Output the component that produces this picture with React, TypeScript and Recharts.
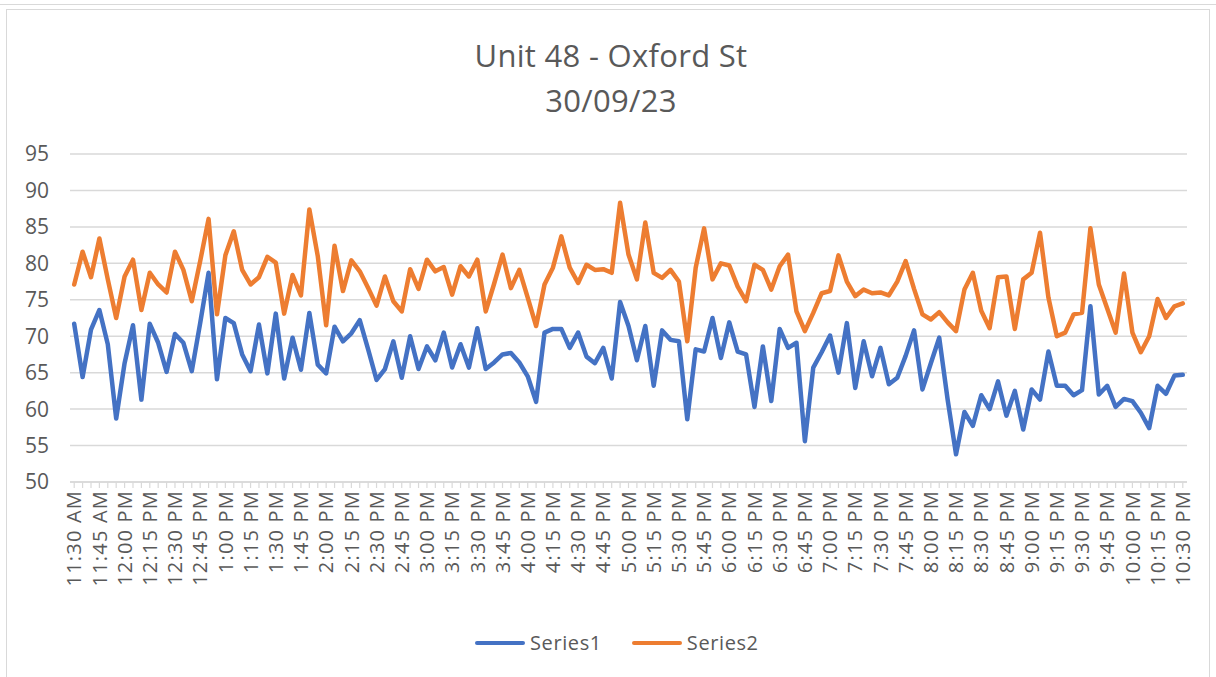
import React from 'react';
import { LineChart, Line, XAxis, YAxis, CartesianGrid, Legend } from 'recharts';

const times = [
  '11:30 AM', '11:35 AM', '11:40 AM', '11:45 AM', '11:50 AM', '11:55 AM',
  '12:00 PM', '12:05 PM', '12:10 PM', '12:15 PM', '12:20 PM', '12:25 PM',
  '12:30 PM', '12:35 PM', '12:40 PM', '12:45 PM', '12:50 PM', '12:55 PM',
  '1:00 PM', '1:05 PM', '1:10 PM', '1:15 PM', '1:20 PM', '1:25 PM',
  '1:30 PM', '1:35 PM', '1:40 PM', '1:45 PM', '1:50 PM', '1:55 PM',
  '2:00 PM', '2:05 PM', '2:10 PM', '2:15 PM', '2:20 PM', '2:25 PM',
  '2:30 PM', '2:35 PM', '2:40 PM', '2:45 PM', '2:50 PM', '2:55 PM',
  '3:00 PM', '3:05 PM', '3:10 PM', '3:15 PM', '3:20 PM', '3:25 PM',
  '3:30 PM', '3:35 PM', '3:40 PM', '3:45 PM', '3:50 PM', '3:55 PM',
  '4:00 PM', '4:05 PM', '4:10 PM', '4:15 PM', '4:20 PM', '4:25 PM',
  '4:30 PM', '4:35 PM', '4:40 PM', '4:45 PM', '4:50 PM', '4:55 PM',
  '5:00 PM', '5:05 PM', '5:10 PM', '5:15 PM', '5:20 PM', '5:25 PM',
  '5:30 PM', '5:35 PM', '5:40 PM', '5:45 PM', '5:50 PM', '5:55 PM',
  '6:00 PM', '6:05 PM', '6:10 PM', '6:15 PM', '6:20 PM', '6:25 PM',
  '6:30 PM', '6:35 PM', '6:40 PM', '6:45 PM', '6:50 PM', '6:55 PM',
  '7:00 PM', '7:05 PM', '7:10 PM', '7:15 PM', '7:20 PM', '7:25 PM',
  '7:30 PM', '7:35 PM', '7:40 PM', '7:45 PM', '7:50 PM', '7:55 PM',
  '8:00 PM', '8:05 PM', '8:10 PM', '8:15 PM', '8:20 PM', '8:25 PM',
  '8:30 PM', '8:35 PM', '8:40 PM', '8:45 PM', '8:50 PM', '8:55 PM',
  '9:00 PM', '9:05 PM', '9:10 PM', '9:15 PM', '9:20 PM', '9:25 PM',
  '9:30 PM', '9:35 PM', '9:40 PM', '9:45 PM', '9:50 PM', '9:55 PM',
  '10:00 PM', '10:05 PM', '10:10 PM', '10:15 PM', '10:20 PM', '10:25 PM',
  '10:30 PM',
];

const series1 = [
  71.7, 64.4, 70.9, 73.6, 68.9, 58.7, 66.3, 71.5, 61.3, 71.7, 69.1, 65.1,
  70.3, 69.1, 65.2, 71.8, 78.7, 64.1, 72.5, 71.8, 67.5, 65.2, 71.6, 64.9,
  73.1, 64.2, 69.8, 65.4, 73.2, 66.1, 64.9, 71.3, 69.3, 70.4, 72.2, 68.2,
  64.0, 65.5, 69.3, 64.3, 70.0, 65.5, 68.6, 66.7, 70.5, 65.7, 68.9, 65.7,
  71.1, 65.5, 66.4, 67.5, 67.7, 66.4, 64.5, 61.0, 70.5, 71.0, 71.0, 68.4,
  70.5, 67.2, 66.3, 68.4, 64.2, 74.7, 71.4, 66.7, 71.4, 63.2, 70.8, 69.5,
  69.3, 58.6, 68.2, 67.9, 72.5, 67.0, 71.9, 67.9, 67.5, 60.3, 68.6, 61.1,
  71.0, 68.4, 69.1, 55.6, 65.7, 67.8, 70.1, 65.0, 71.8, 62.9, 69.3, 64.5,
  68.4, 63.4, 64.3, 67.3, 70.8, 62.7, 66.3, 69.8, 61.3, 53.8, 59.6, 57.7,
  61.9, 60.0, 63.8, 59.1, 62.5, 57.2, 62.7, 61.3, 67.9, 63.2, 63.2, 61.9,
  62.6, 74.1, 62.0, 63.2, 60.3, 61.4, 61.1, 59.5, 57.4, 63.2, 62.1, 64.6,
  64.7,
];

const series2 = [
  77.1, 81.6, 78.1, 83.4, 77.8, 72.5, 78.2, 80.5, 73.6, 78.7, 77.1, 76.0,
  81.6, 79.1, 74.8, 80.3, 86.1, 73.0, 81.1, 84.4, 79.1, 77.1, 78.1, 80.9,
  80.1, 73.1, 78.4, 75.6, 87.4, 81.0, 71.5, 82.4, 76.2, 80.4, 78.9, 76.6,
  74.2, 78.2, 74.8, 73.4, 79.2, 76.5, 80.5, 78.9, 79.5, 75.7, 79.6, 78.2,
  80.5, 73.4, 77.2, 81.2, 76.6, 79.1, 75.3, 71.4, 77.1, 79.4, 83.7, 79.4,
  77.3, 79.8, 79.1, 79.2, 78.7, 88.3, 81.2, 77.8, 85.6, 78.7, 78.0, 79.1,
  77.5, 69.3, 79.4, 84.8, 77.8, 80.0, 79.7, 76.8, 74.8, 79.8, 79.1, 76.4,
  79.6, 81.2, 73.4, 70.7, 73.2, 75.9, 76.2, 81.1, 77.5, 75.5, 76.4, 75.9,
  76.0, 75.6, 77.5, 80.3, 76.5, 73.0, 72.3, 73.3, 71.9, 70.7, 76.4, 78.7,
  73.5, 71.1, 78.1, 78.2, 71.0, 77.8, 78.7, 84.2, 75.3, 70.0, 70.5, 73.0,
  73.2, 84.8, 77.1, 73.8, 70.5, 78.6, 70.5, 67.8, 70.0, 75.1, 72.5, 74.1,
  74.5,
];

const yTicks = [50, 55, 60, 65, 70, 75, 80, 85, 90, 95];
const titleLines = ['Unit 48 - Oxford St', '30/09/23'];
const seriesNames = ['Series1', 'Series2'];
const seriesColors = ['#4472C4', '#ED7D31'];

const data = times.map((t, i) => ({ time: t, Series1: series1[i], Series2: series2[i] }));

const FONT = "'Open Sans', 'Noto Sans', sans-serif";
const GREY = '#595959';
const LIGHT = '#d9d9d9';

const XTick = (props: any) => {
  const { x, y, payload, index } = props;
  if (index % 3 !== 0) return <g />;
  return (
    <text
      x={x}
      y={y}
      transform={`rotate(-90, ${x}, ${y})`}
      textAnchor="end"
      dy="0.36em"
      fill={GREY}
      fontSize={20}
      letterSpacing={1.2}
      fontFamily={FONT}
    >
      {payload.value}
    </text>
  );
};

const LegendContent = () => (
  <div style={{ display: 'flex', alignItems: 'center', fontFamily: FONT, fontSize: 20, color: GREY }}>
    {seriesNames.map((n, i) => (
      <div key={n} style={{ display: 'flex', alignItems: 'center', marginRight: 30 }}>
        <div style={{ width: 50, height: 4, background: seriesColors[i], borderRadius: 2, marginRight: 5 }} />
        <span style={{ letterSpacing: 0.6 }}>{n}</span>
      </div>
    ))}
  </div>
);

export default function App() {
  return (
    <div style={{ position: 'absolute', left: 0, top: 0, width: 1216, height: 677, background: '#fff', overflow: 'hidden' }}>
      <div style={{ position: 'absolute', left: 0, top: 4, width: 1216, height: 0, borderTop: `1px solid ${LIGHT}` }} />
      <div style={{ position: 'absolute', left: 6, top: 9, width: 1204, height: 700, border: `1px solid ${LIGHT}`, boxSizing: 'border-box' }} />
      <div style={{ position: 'absolute', left: 0, top: 33, width: 1222, textAlign: 'center', fontFamily: FONT, fontSize: 31, color: GREY, lineHeight: '45px', letterSpacing: 0.3 }}>
        {titleLines.map((l) => (
          <div key={l}>{l}</div>
        ))}
      </div>
      <div style={{ position: 'absolute', left: 0, top: 0 }}>
        <LineChart width={1216} height={677} data={data} margin={{ top: 154, right: 29, bottom: 45, left: 30 }}>
          <CartesianGrid horizontal vertical={false} stroke={LIGHT} strokeWidth={1.5} />
          <XAxis
            dataKey="time"
            interval={0}
            tick={<XTick />}
            tickLine={{ stroke: LIGHT, strokeWidth: 1.2 }}
            axisLine={{ stroke: LIGHT, strokeWidth: 1.5 }}
            tickSize={6}
            tickMargin={2}
            height={150}
            padding={{ left: 4.2, right: 4.2 }}
          />
          <YAxis
            domain={[50, 95]}
            ticks={yTicks}
            interval={0}
            axisLine={false}
            tickLine={false}
            width={40}
            tickMargin={15}
            tick={{ fill: GREY, fontSize: 21, fontFamily: FONT }}
          />
          <Legend
            layout="horizontal"
            verticalAlign="middle"
            content={<LegendContent />}
            wrapperStyle={{ top: 629, left: 475, width: 340, height: 28 }}
          />
          {seriesNames.map((n, i) => (
            <Line
              key={n}
              type="linear"
              dataKey={n}
              stroke={seriesColors[i]}
              strokeWidth={4.5}
              strokeLinejoin="round"
              strokeLinecap="round"
              dot={false}
              activeDot={false}
              isAnimationActive={false}
            />
          ))}
        </LineChart>
      </div>
    </div>
  );
}
